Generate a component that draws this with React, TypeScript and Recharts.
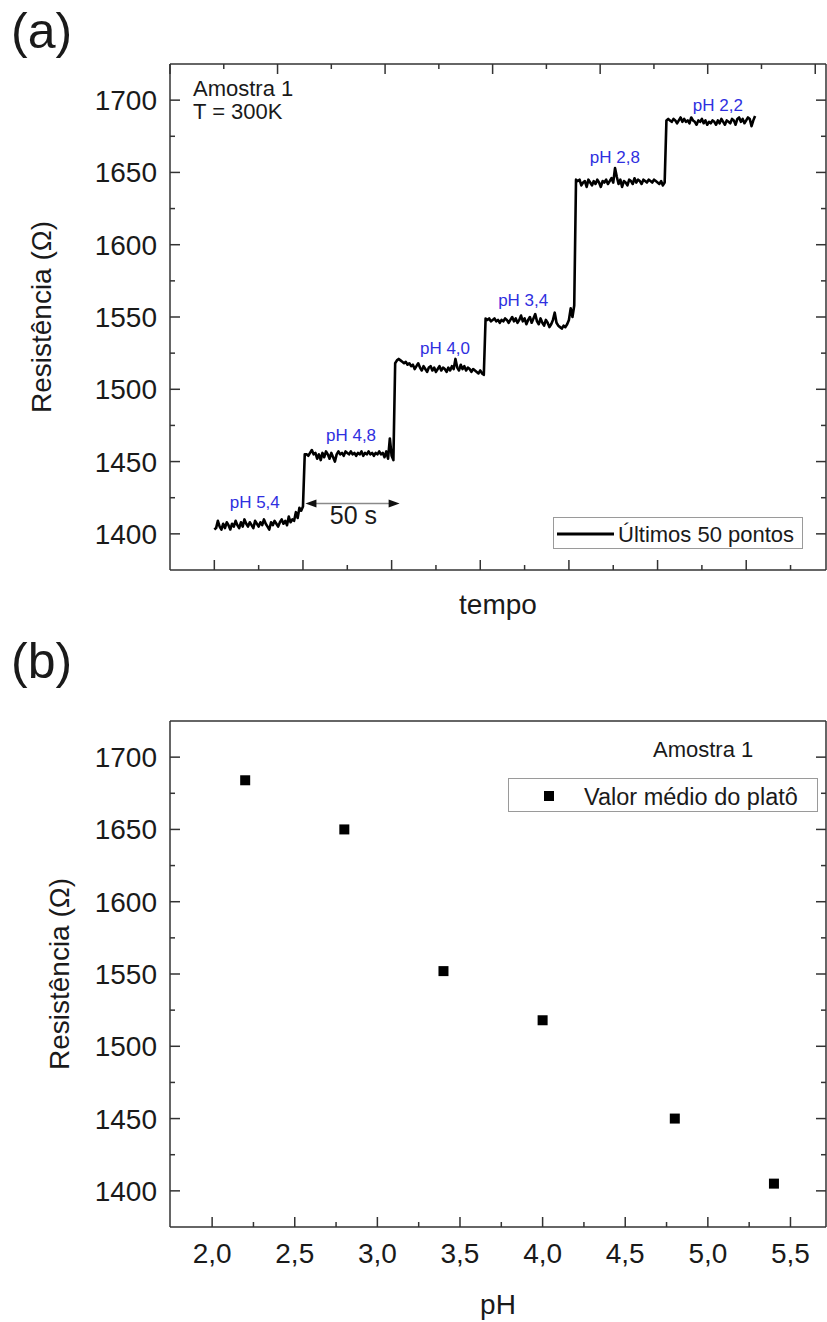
import React from 'react';
import {
  LineChart,
  Line,
  ScatterChart,
  Scatter,
  XAxis,
  YAxis,
  ReferenceDot,
  ReferenceLine,
  Legend,
} from 'recharts';

const FONT = '"Liberation Sans", Arial, Helvetica, sans-serif';
const AXIS = '#333333';
const BLUE = '#2f2fe0';

// ---------- Panel (a): resistance vs time, last points of each plateau ----------
const plateauPH54 = [1403, 1404, 1409, 1405, 1403, 1407, 1404, 1408, 1406, 1403, 1407, 1405, 1409, 1406, 1404, 1408, 1405, 1410, 1407, 1405, 1408, 1406, 1404, 1409, 1407, 1405, 1408, 1406, 1410, 1407, 1405, 1403, 1408, 1406, 1409, 1407, 1405, 1408, 1410, 1407, 1409, 1406, 1412, 1408, 1410, 1409, 1415, 1411, 1418, 1416, 1419];
const plateauPH48 = [1455, 1455, 1454, 1456, 1458, 1455, 1456, 1452, 1455, 1451, 1456, 1453, 1457, 1455, 1452, 1456, 1453, 1450, 1455, 1457, 1455, 1456, 1454, 1457, 1456, 1455, 1457, 1455, 1456, 1454, 1456, 1455, 1457, 1454, 1456, 1455, 1457, 1455, 1456, 1454, 1456, 1455, 1457, 1455, 1456, 1453, 1457, 1452, 1466, 1454, 1451];
const plateauPH40 = [1518, 1520, 1521, 1520, 1519, 1518, 1519, 1517, 1518, 1516, 1517, 1514, 1516, 1518, 1515, 1513, 1516, 1514, 1512, 1515, 1516, 1513, 1515, 1512, 1514, 1516, 1513, 1515, 1514, 1512, 1515, 1513, 1516, 1514, 1521, 1515, 1513, 1517, 1514, 1516, 1513, 1515, 1514, 1512, 1514, 1513, 1512, 1511, 1513, 1511, 1510];
const plateauPH34 = [1549, 1548, 1549, 1547, 1548, 1549, 1547, 1548, 1546, 1548, 1547, 1549, 1548, 1546, 1548, 1550, 1547, 1549, 1546, 1548, 1551, 1547, 1549, 1545, 1548, 1550, 1546, 1549, 1552, 1547, 1545, 1549, 1546, 1544, 1548, 1546, 1543, 1545, 1548, 1553, 1546, 1544, 1543, 1542, 1544, 1543, 1545, 1548, 1556, 1550, 1558];
const plateauPH28 = [1645, 1644, 1645, 1641, 1643, 1644, 1640, 1645, 1643, 1641, 1644, 1642, 1645, 1643, 1640, 1644, 1643, 1645, 1642, 1644, 1646, 1643, 1653, 1647, 1642, 1645, 1640, 1644, 1643, 1641, 1645, 1644, 1642, 1646, 1643, 1645, 1644, 1642, 1645, 1644, 1643, 1645, 1644, 1643, 1645, 1644, 1643, 1642, 1644, 1641, 1643];
const plateauPH22 = [1686, 1687, 1686, 1685, 1687, 1686, 1684, 1686, 1688, 1685, 1687, 1685, 1686, 1684, 1688, 1686, 1685, 1683, 1686, 1685, 1687, 1684, 1686, 1683, 1685, 1684, 1686, 1685, 1683, 1686, 1684, 1687, 1685, 1683, 1686, 1685, 1684, 1687, 1686, 1683, 1687, 1688, 1685, 1687, 1684, 1686, 1688, 1687, 1682, 1686, 1689];

const plateaus = [plateauPH54, plateauPH48, plateauPH40, plateauPH34, plateauPH28, plateauPH22];
const resistanceSeries = plateaus.flat();
const timeData = resistanceSeries.map((r, i) => ({ t: i, r }));

const timeDomain = [-25, 345];
const timeTicks = [0, 25, 50, 75, 100, 125, 150, 175, 200, 225, 250, 275, 300, 325];
const timeMajorTicks = [0, 50, 100, 150, 200, 250, 300];

const resDomain = [1375, 1725];
const resTicks = [1400, 1425, 1450, 1475, 1500, 1525, 1550, 1575, 1600, 1625, 1650, 1675, 1700];
const resMajorTicks = [1400, 1450, 1500, 1550, 1600, 1650, 1700];
const resTickLabels = ['1400', '1450', '1500', '1550', '1600', '1650', '1700'];

// plateau annotations (data coordinates: time, resistance)
const phAnnotationText = ['pH 5,4', 'pH 4,8', 'pH 4,0', 'pH 3,4', 'pH 2,8', 'pH 2,2'];
const phAnnotationTime = [22.8, 77.1, 130.1, 174.2, 225.9, 284];
const phAnnotationRes = [1418, 1464, 1524.4, 1557.8, 1656.4, 1692.5];

// "50 s" arrow
const arrowTimes = [51.4, 104.5];
const arrowRes = 1421;
const arrowLabel = '50 s';
const arrowLabelTime = 78.5;
const arrowLabelRes = 1407;

// ---------- Panel (b): plateau mean vs pH ----------
const phValues = [2.2, 2.8, 3.4, 4.0, 4.8, 5.4];
const plateauMeans = [1684, 1650, 1552, 1518, 1450, 1405];
const phData = phValues.map((ph, i) => ({ ph, r: plateauMeans[i] }));

const phDomain = [1.745, 5.715];
const phTicks = [2.0, 2.25, 2.5, 2.75, 3.0, 3.25, 3.5, 3.75, 4.0, 4.25, 4.5, 4.75, 5.0, 5.25, 5.5];
const phMajorTicks = [2.0, 2.5, 3.0, 3.5, 4.0, 4.5, 5.0, 5.5];
const phTickLabels = ['2,0', '2,5', '3,0', '3,5', '4,0', '4,5', '5,0', '5,5'];

// ---------- tick renderers ----------
type Side = 'bottom' | 'left' | 'top' | 'right';

function makeTick(side: Side, majors: number[], labels: string[] | null) {
  return (props: any) => {
    const { x, y, payload } = props;
    const v = payload.value;
    const idx = majors.indexOf(v);
    const major = idx >= 0;
    const len = major ? 10 : 5;
    let x2 = x;
    let y2 = y;
    if (side === 'bottom') y2 = y - len;
    if (side === 'top') y2 = y + len;
    if (side === 'left') x2 = x + len;
    if (side === 'right') x2 = x - len;
    const label = major && labels ? labels[idx] : null;
    return (
      <g>
        <line x1={x} y1={y} x2={x2} y2={y2} stroke={AXIS} strokeWidth={1.5} />
        {label && side === 'left' && (
          <text x={x - 13} y={y + 10} textAnchor="end" fontSize={28} fill="#1a1a1a" fontFamily={FONT}>
            {label}
          </text>
        )}
        {label && side === 'bottom' && (
          <text x={x} y={y + 36} textAnchor="middle" fontSize={28} fill="#1a1a1a" fontFamily={FONT}>
            {label}
          </text>
        )}
      </g>
    );
  };
}

const ArrowShape = (props: any) => {
  const { x1, y1, x2, y2 } = props;
  const h = 11;
  const w = 4;
  return (
    <g>
      <line x1={x1 + 4} y1={y1} x2={x2 - 4} y2={y2} stroke="#8a8a8a" strokeWidth={1.5} />
      <polygon points={`${x1},${y1} ${x1 + h},${y1 - w} ${x1 + h},${y1 + w}`} fill="#111" />
      <polygon points={`${x2},${y2} ${x2 - h},${y2 - w} ${x2 - h},${y2 + w}`} fill="#111" />
    </g>
  );
};

const makeTextShape = (text: string, size: number, color: string) => (p: any) => (
  <text x={p.cx} y={p.cy} textAnchor="middle" fontSize={size} fill={color} fontFamily={FONT}>
    {text}
  </text>
);

const TopLegend = (props: any) => {
  const name = props.payload && props.payload[0] ? props.payload[0].value : '';
  return (
    <div
      style={{
        width: 250,
        height: 32,
        boxSizing: 'border-box',
        border: '1.5px solid #9a9a9a',
        background: '#fff',
        position: 'relative',
        fontFamily: FONT,
      }}
    >
      <svg width={250} height={32} style={{ position: 'absolute', left: 0, top: 0 }}>
        <line x1={3} y1={16} x2={60} y2={16} stroke="#000" strokeWidth={3} />
        <text x={64} y={24} fontSize={22} fill="#1a1a1a" fontFamily={FONT}>
          {name}
        </text>
      </svg>
    </div>
  );
};

const BottomLegend = (props: any) => {
  const name = props.payload && props.payload[0] ? props.payload[0].value : '';
  return (
    <div
      style={{
        width: 310,
        height: 34,
        boxSizing: 'border-box',
        border: '1.5px solid #9a9a9a',
        background: '#fff',
        position: 'relative',
        fontFamily: FONT,
      }}
    >
      <svg width={310} height={34} style={{ position: 'absolute', left: 0, top: 0 }}>
        <rect x={35} y={12} width={10} height={10} fill="#000" />
        <text x={75} y={26} fontSize={23.5} fill="#1a1a1a" fontFamily={FONT}>
          {name}
        </text>
      </svg>
    </div>
  );
};

const SquareShape = (p: any) => <rect x={p.cx - 5} y={p.cy - 5} width={10} height={10} fill="#000" />;

const axisLine = { stroke: AXIS, strokeWidth: 1.5 };

export default function App() {
  return (
    <div
      style={{
        position: 'absolute',
        left: 0,
        top: 0,
        width: 827,
        height: 1322,
        background: '#ffffff',
        fontFamily: FONT,
        overflow: 'hidden',
      }}
    >
      {/* Panel (a) */}
      <div style={{ position: 'absolute', left: 0, top: 0 }}>
        <LineChart width={827} height={640} data={timeData} margin={{ top: 0, right: 0, bottom: 0, left: 0 }}>
          <XAxis
            xAxisId="b"
            dataKey="t"
            type="number"
            domain={timeDomain}
            ticks={timeTicks}
            interval={0}
            allowDataOverflow
            height={70}
            axisLine={axisLine}
            tickLine={false}
            tickSize={0}
            tickMargin={0}
            tick={makeTick('bottom', timeMajorTicks, null)}
          />
          <XAxis
            xAxisId="t"
            orientation="top"
            type="number"
            domain={timeDomain}
            ticks={timeTicks}
            interval={0}
            allowDataOverflow
            height={64}
            axisLine={axisLine}
            tickLine={false}
            tickSize={0}
            tickMargin={0}
            tick={makeTick('top', timeMajorTicks, null)}
          />
          <YAxis
            yAxisId="l"
            type="number"
            domain={resDomain}
            ticks={resTicks}
            interval={0}
            allowDataOverflow
            width={170}
            axisLine={axisLine}
            tickLine={false}
            tickSize={0}
            tickMargin={0}
            tick={makeTick('left', resMajorTicks, resTickLabels)}
          />
          <YAxis
            yAxisId="r"
            orientation="right"
            type="number"
            domain={resDomain}
            ticks={resTicks}
            interval={0}
            allowDataOverflow
            width={1}
            axisLine={axisLine}
            tickLine={false}
            tickSize={0}
            tickMargin={0}
            tick={makeTick('right', resMajorTicks, null)}
          />
          <Line
            xAxisId="b"
            yAxisId="l"
            type="linear"
            dataKey="r"
            name="Últimos 50 pontos"
            stroke="#000"
            strokeWidth={2.6}
            strokeLinejoin="round"
            dot={false}
            activeDot={false}
            isAnimationActive={false}
          />
          {phAnnotationText.map((txt, i) => (
            <ReferenceDot
              key={txt}
              xAxisId="b"
              yAxisId="l"
              x={phAnnotationTime[i]}
              y={phAnnotationRes[i]}
              r={0}
              ifOverflow="visible"
              shape={makeTextShape(txt, 17, BLUE)}
            />
          ))}
          <ReferenceLine
            xAxisId="b"
            yAxisId="l"
            segment={[
              { x: arrowTimes[0], y: arrowRes },
              { x: arrowTimes[1], y: arrowRes },
            ]}
            ifOverflow="visible"
            shape={ArrowShape}
          />
          <ReferenceDot
            xAxisId="b"
            yAxisId="l"
            x={arrowLabelTime}
            y={arrowLabelRes}
            r={0}
            ifOverflow="visible"
            shape={makeTextShape(arrowLabel, 25, '#1a1a1a')}
          />
          <Legend
            layout="vertical"
            align="center"
            verticalAlign="middle"
            content={TopLegend}
            wrapperStyle={{ position: 'absolute', left: 553, top: 517, width: 250, height: 32 }}
          />
        </LineChart>
      </div>

      {/* Panel (b) */}
      <div style={{ position: 'absolute', left: 0, top: 650 }}>
        <ScatterChart width={827} height={672} margin={{ top: 0, right: 0, bottom: 0, left: 0 }}>
          <XAxis
            xAxisId="b"
            dataKey="ph"
            type="number"
            domain={phDomain}
            ticks={phTicks}
            interval={0}
            allowDataOverflow
            height={95}
            axisLine={axisLine}
            tickLine={false}
            tickSize={0}
            tickMargin={0}
            tick={makeTick('bottom', phMajorTicks, phTickLabels)}
          />
          <XAxis
            xAxisId="t"
            orientation="top"
            type="number"
            domain={phDomain}
            ticks={phTicks}
            interval={0}
            allowDataOverflow
            height={71}
            axisLine={axisLine}
            tickLine={false}
            tickSize={0}
            tickMargin={0}
            tick={makeTick('top', phMajorTicks, null)}
          />
          <YAxis
            yAxisId="l"
            dataKey="r"
            type="number"
            domain={resDomain}
            ticks={resTicks}
            interval={0}
            allowDataOverflow
            width={170}
            axisLine={axisLine}
            tickLine={false}
            tickSize={0}
            tickMargin={0}
            tick={makeTick('left', resMajorTicks, resTickLabels)}
          />
          <YAxis
            yAxisId="r"
            orientation="right"
            type="number"
            domain={resDomain}
            ticks={resTicks}
            interval={0}
            allowDataOverflow
            width={1}
            axisLine={axisLine}
            tickLine={false}
            tickSize={0}
            tickMargin={0}
            tick={makeTick('right', resMajorTicks, null)}
          />
          <Scatter
            xAxisId="b"
            yAxisId="l"
            name="Valor médio do platô"
            data={phData}
            fill="#000"
            shape={SquareShape}
            isAnimationActive={false}
          />
          <Legend
            layout="vertical"
            align="center"
            verticalAlign="middle"
            content={BottomLegend}
            wrapperStyle={{ position: 'absolute', left: 508, top: 128, width: 310, height: 34 }}
          />
        </ScatterChart>
      </div>

      {/* Titles and annotations */}
      <svg
        width={827}
        height={1322}
        style={{ position: 'absolute', left: 0, top: 0, pointerEvents: 'none' }}
        fontFamily={FONT}
      >
        <text x={11} y={48} fontSize={50} fill="#1a1a1a">(a)</text>
        <text x={193} y={96} fontSize={22} fill="#1a1a1a">Amostra 1</text>
        <text x={193} y={119} fontSize={22} fill="#1a1a1a">T = 300K</text>
        <text
          x={41}
          y={317}
          fontSize={28}
          fill="#1a1a1a"
          textAnchor="middle"
          dominantBaseline="central"
          transform="rotate(-90 41 317)"
        >
          Resistência (Ω)
        </text>
        <text x={498} y={614} fontSize={28} fill="#1a1a1a" textAnchor="middle">tempo</text>

        <text x={11} y={678} fontSize={50} fill="#1a1a1a">(b)</text>
        <text x={653} y={757} fontSize={22} fill="#1a1a1a">Amostra 1</text>
        <text
          x={59}
          y={974}
          fontSize={28}
          fill="#1a1a1a"
          textAnchor="middle"
          dominantBaseline="central"
          transform="rotate(-90 59 974)"
        >
          Resistência (Ω)
        </text>
        <text x={498} y={1314} fontSize={28} fill="#1a1a1a" textAnchor="middle">pH</text>
      </svg>
    </div>
  );
}
